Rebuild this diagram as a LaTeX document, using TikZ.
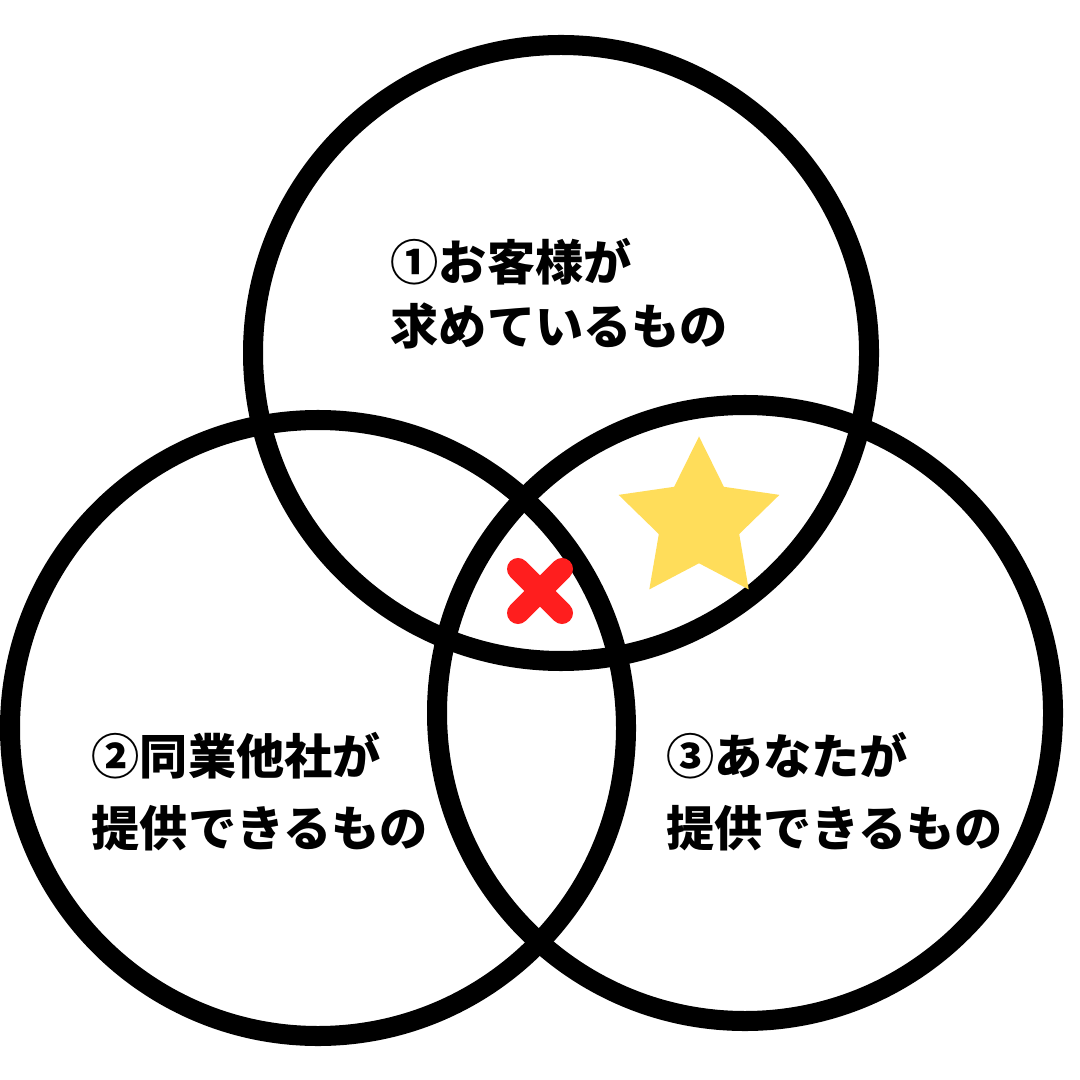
\documentclass[tikz,border=0pt]{standalone}
\usepackage{fontspec}
\newfontfamily\jpfont{Noto Sans CJK JP}
\usetikzlibrary{shapes.geometric}
\definecolor{starYellow}{RGB}{255,221,90}
\definecolor{crossRed}{RGB}{255,30,30}
\begin{document}
\begin{tikzpicture}[x=0.01cm,y=-0.01cm,line join=round,line cap=round]
	\tikzset{ring/.style={line width=0.2cm,black},
		lbl/.style={anchor=west,inner sep=0pt,font=\jpfont\bfseries\fontsize{13.7pt}{16pt}\selectfont},
		cross/.style={line width=0.22cm,crossRed}}
	\useasboundingbox (0,0) rectangle (1080,1080);
	\coordinate (cNeed) at (561,353);
	\coordinate (cRival) at (318,728);
	\coordinate (cYou) at (745,713);
	\draw[ring] (cNeed) circle (308);
	\draw[ring] (cRival) circle (308);
	\draw[ring] (cYou) circle (308);
	% labels
	\node[lbl] (need1) at (390,262) {①お客様が};
	\node[lbl] (need2) at (390,326) {求めているもの};
	\node[lbl] (rival1) at (91,756) {②同業他社が};
	\node[lbl] (rival2) at (91,828) {提供できるもの};
	\node[lbl] (you1) at (666,756) {③あなたが};
	\node[lbl] (you2) at (666,828) {提供できるもの};
	% star and cross
	\node[star,star points=5,star point ratio=2,minimum size=1.69cm,inner sep=0pt,fill=starYellow] (goal) at (699,521) {};
	\coordinate (miss) at (540,591);
	\draw[cross] (miss) ++(-22,-22) -- ++(44,44) (miss) ++(22,-22) -- ++(-44,44);
\end{tikzpicture}
\end{document}
